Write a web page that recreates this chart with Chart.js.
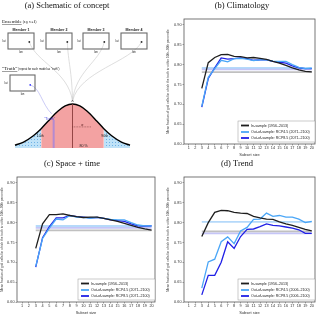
<!DOCTYPE html>
<html>
<head>
<meta charset="utf-8">
<script src="https://cdn.jsdelivr.net/npm/chart.js@4/dist/chart.umd.min.js"></script>
<style>
  body { margin: 0; background: #fff; width: 320px; height: 315px; overflow: hidden; position: relative; }
  canvas { position: absolute; }
</style>
</head>
<body>
<canvas id="pa" width="160" height="157" style="left:0;top:0"></canvas>
<canvas id="pb" width="160" height="157" style="left:160px;top:0"></canvas>
<canvas id="pc" width="160" height="157" style="left:0;top:158px"></canvas>
<canvas id="pd" width="160" height="157" style="left:160px;top:158px"></canvas>
<script>
// x axis
const subsetSizes = [3, 4, 5, 6, 7, 8, 9, 10, 11, 12, 13, 14, 15, 16, 17, 18, 19, 20];
const xTickValues = [1, 2, 3, 4, 5, 6, 7, 8, 9, 10, 11, 12, 13, 14, 15, 16, 17, 18, 19, 20];
const yTickValues = [0.60, 0.65, 0.70, 0.75, 0.80, 0.85, 0.90];

// (b) Climatology
const climInSample = [0.740, 0.805, 0.818, 0.825, 0.826, 0.821, 0.820, 0.817, 0.818, 0.816, 0.813, 0.808, 0.804, 0.798, 0.792, 0.787, 0.783, 0.782];
const climRcp45    = [0.695, 0.768, 0.790, 0.811, 0.807, 0.815, 0.816, 0.814, 0.810, 0.812, 0.812, 0.809, 0.808, 0.808, 0.800, 0.793, 0.790, 0.791];
const climRcp85    = [0.693, 0.765, 0.792, 0.817, 0.814, 0.815, 0.817, 0.815, 0.811, 0.812, 0.812, 0.808, 0.806, 0.804, 0.797, 0.792, 0.790, 0.790];
const climRef      = [0.781, 0.792, 0.788];

// (c) Space + time
const stInSample = [0.735, 0.797, 0.820, 0.820, 0.822, 0.818, 0.815, 0.813, 0.814, 0.814, 0.811, 0.807, 0.803, 0.798, 0.793, 0.788, 0.784, 0.781];
const stRcp45    = [0.690, 0.760, 0.786, 0.809, 0.807, 0.818, 0.814, 0.813, 0.811, 0.813, 0.811, 0.808, 0.807, 0.807, 0.800, 0.794, 0.792, 0.792];
const stRcp85    = [0.688, 0.762, 0.790, 0.812, 0.812, 0.818, 0.815, 0.814, 0.812, 0.813, 0.811, 0.807, 0.805, 0.803, 0.797, 0.792, 0.791, 0.792];
const stRef      = [0.7805, 0.7915, 0.787];

// (d) Trend
const trInSample = [0.765, 0.800, 0.826, 0.831, 0.830, 0.826, 0.824, 0.823, 0.816, 0.812, 0.809, 0.808, 0.802, 0.797, 0.793, 0.788, 0.783, 0.779];
const trRcp45    = [0.635, 0.701, 0.708, 0.752, 0.764, 0.747, 0.779, 0.788, 0.808, 0.809, 0.824, 0.816, 0.818, 0.814, 0.814, 0.809, 0.800, 0.803];
const trRcp85    = [0.618, 0.667, 0.667, 0.700, 0.752, 0.735, 0.765, 0.783, 0.784, 0.790, 0.797, 0.793, 0.792, 0.789, 0.786, 0.782, 0.773, 0.773];
const trRef      = [0.778, 0.802, 0.773];

// (a) schematic: bell curve (x in sd units, height relative to peak)
const bellX = [-2.35, -2.0, -1.6, -1.28, -1.0, -0.6, -0.3, 0, 0.3, 0.6, 1.0, 1.28, 1.6, 2.0, 2.35];
const bellY = [0.063, 0.135, 0.278, 0.44, 0.607, 0.835, 0.956, 1, 0.956, 0.835, 0.607, 0.44, 0.278, 0.135, 0.063];
const bellMean = 0;
const truthValue = -0.77;
const truthHeight = 0.64;
const memberNames = ['Member 1', 'Member 2', 'Member 3', 'Member 4'];
const memberLon = [0.82, 0.82, 0.82, 0.79];
const memberLat = [0.44, 0.44, 0.44, 0.44];
const truthLon = 0.81, truthLat = 0.38;

const SANS = "'Liberation Sans', Arial, sans-serif";
const SERIF = "'Liberation Serif', 'Times New Roman', serif";
Chart.defaults.font.family = SANS;
Chart.defaults.color = '#333';
Chart.defaults.animation = false;
Chart.defaults.responsive = false;
Chart.defaults.events = [];
Chart.defaults.plugins.legend.display = false;
Chart.defaults.plugins.tooltip.enabled = false;

const BLACK = '#1e1e1e', LIGHT = '#4aa6f7', DARK = '#2020e6';
const REF_COLORS = ['rgba(150,150,150,0.6)', 'rgba(120,185,245,0.55)', 'rgba(140,140,240,0.5)'];

const panelDecor = {
    id: 'panelDecor',
    afterDatasetsDraw(chart, args, opts) {
        const { ctx, chartArea: a } = chart;
        ctx.save();
        ctx.strokeStyle = '#555';
        ctx.lineWidth = 0.8;
        ctx.strokeRect(a.left, a.top, a.right - a.left, a.bottom - a.top);

        ctx.fillStyle = '#111';
        ctx.font = '8.5px ' + SERIF;
        ctx.textAlign = 'center';
        ctx.textBaseline = 'middle';
        ctx.fillText(opts.title, opts.titleX, opts.titleY);

        // legend box in lower right
        const items = chart.data.datasets.filter(d => d.label);
        const bw = 77, bx = a.right - bw, by = a.bottom - 23, bh = 21;
        ctx.fillStyle = '#fff';
        ctx.fillRect(bx, by, bw, bh);
        ctx.strokeStyle = '#999';
        ctx.lineWidth = 0.5;
        ctx.strokeRect(bx, by, bw, bh);
        const rowsY = [by + 4.5, by + 11, by + 17];
        ctx.font = '3.6px ' + SANS;
        ctx.textAlign = 'left';
        items.forEach((d, i) => {
            ctx.strokeStyle = d.borderColor;
            ctx.lineWidth = 1.8;
            ctx.beginPath();
            ctx.moveTo(bx + 3, rowsY[i]);
            ctx.lineTo(bx + 11, rowsY[i]);
            ctx.stroke();
            ctx.fillStyle = '#222';
            ctx.fillText(d.label, bx + 13, rowsY[i]);
        });
        ctx.restore();
    }
};

function makePanel(id, title, titleX, leftPad, yWidth, inS, r45, r85, refs, period) {
    const series = (label, vals, color) => ({
        label, data: subsetSizes.map((x, i) => ({ x, y: vals[i] })),
        borderColor: color, borderWidth: 1.3, pointRadius: 0, tension: 0
    });
    const refLine = (val, color) => ({
        data: [{ x: subsetSizes[0], y: val }, { x: subsetSizes[subsetSizes.length - 1], y: val }],
        borderColor: color, borderWidth: 1.8, pointRadius: 0
    });
    return new Chart(document.getElementById(id), {
        type: 'line',
        data: {
            datasets: [
                series('In-sample (1956\u20132013)', inS, BLACK),
                series('Out-of-sample: RCP4.5 (' + period + ')', r45, LIGHT),
                series('Out-of-sample: RCP8.5 (' + period + ')', r85, DARK),
                refLine(refs[0], REF_COLORS[0]),
                refLine(refs[1], REF_COLORS[1]),
                refLine(refs[2], REF_COLORS[2])
            ]
        },
        options: {
            layout: { padding: { left: leftPad, right: 5, top: 19, bottom: 0 } },
            scales: {
                x: {
                    type: 'linear', min: 0.25, max: 20.5,
                    afterBuildTicks: s => { s.ticks = xTickValues.map(v => ({ value: v })); },
                    afterFit: s => { s.height = 13; },
                    grid: { drawOnChartArea: false, tickLength: 1.5, color: '#555', lineWidth: 0.5 },
                    border: { display: false },
                    ticks: { font: { size: 3.8 }, padding: 0.5, maxRotation: 0, autoSkip: false, color: '#333' },
                    title: { display: true, text: 'Subset size', font: { size: 4 }, padding: 0, color: '#333' }
                },
                y: {
                    min: 0.6, max: 0.915,
                    afterBuildTicks: s => { s.ticks = yTickValues.map(v => ({ value: v })); },
                    afterFit: s => { s.width = yWidth; },
                    grid: { drawOnChartArea: false, tickLength: 1.5, color: '#555', lineWidth: 0.5 },
                    border: { display: false },
                    ticks: { font: { size: 3.8 }, padding: 1, callback: v => v.toFixed(2), color: '#333' },
                    title: {
                        display: true, padding: 0, color: '#333', font: { size: 3.2 },
                        text: 'Mean fraction of grid cells for which the truth is within 10th\u201390th percentile'
                    }
                }
            },
            plugins: { panelDecor: { title, titleX, titleY: 6 } }
        },
        plugins: [panelDecor]
    });
}

makePanel('pb', '(b) Climatology', 82, 6, 18, climInSample, climRcp45, climRcp85, climRef, '2071\u20132100');
makePanel('pc', '(c) Space + time', 72, 0, 17, stInSample, stRcp45, stRcp85, stRef, '2071\u20132100');
makePanel('pd', '(d) Trend', 77, 6, 18, trInSample, trRcp45, trRcp85, trRef, '2006\u20132100');

// ---- panel (a): small maps ----
const boxDecor = {
    id: 'boxDecor',
    beforeDatasetsDraw(chart, args, opts) {
        const { ctx, chartArea: a } = chart;
        ctx.save();
        ctx.strokeStyle = '#6a6a6a';
        ctx.lineWidth = 1.1;
        ctx.strokeRect(a.left, a.top, a.right - a.left, a.bottom - a.top);
        ctx.fillStyle = '#222';
        ctx.textAlign = 'center';
        ctx.textBaseline = 'middle';
        if (opts.name) {
            ctx.font = 'bold 3.6px ' + SANS;
            ctx.fillText(opts.name, (a.left + a.right) / 2, a.top - 2.6);
        }
        ctx.font = '2.8px ' + SANS;
        ctx.fillText('lat', a.left - 4, (a.top + a.bottom) / 2);
        ctx.fillText('lon', (a.left + a.right) / 2, a.bottom + 3);
        ctx.restore();
    }
};

function makeMap(left, top, w, h, name, lon, lat, color) {
    const cv = document.createElement('canvas');
    cv.width = w + 9; cv.height = h + 11;
    cv.style.left = (left - 7) + 'px';
    cv.style.top = (top - 6) + 'px';
    document.body.appendChild(cv);
    const chart = new Chart(cv, {
        type: 'scatter',
        data: { datasets: [{ data: [{ x: lon, y: lat }], pointStyle: 'rect', pointRadius: 1.1, backgroundColor: color, borderColor: color, borderWidth: 0 }] },
        options: {
            layout: { padding: { left: 7, top: 6, right: 2, bottom: 5 } },
            scales: { x: { display: false, min: 0, max: 1 }, y: { display: false, min: 0, max: 1 } },
            plugins: { boxDecor: { name } }
        },
        plugins: [boxDecor]
    });
    const pt = chart.getDatasetMeta(0).data[0];
    return { x: left - 7 + pt.x, y: top - 6 + pt.y };
}

const memberLeft = [8, 46, 83, 121];
const memberPts = memberNames.map((n, i) => makeMap(memberLeft[i], 33, 28, 16, n, memberLon[i], memberLat[i], '#111'));
const truthPt = makeMap(10, 75, 27, 16, null, truthLon, truthLat, '#3535ff');

// dotted pattern for the tails
function tailPattern(ctx) {
    const p = document.createElement('canvas');
    p.width = 3; p.height = 3;
    const g = p.getContext('2d');
    g.fillStyle = '#bfe2f8';
    g.fillRect(0, 0, 3, 3);
    g.fillStyle = '#6fb2e6';
    g.fillRect(1, 1, 1, 1);
    return ctx.createPattern(p, 'repeat');
}

const schematicDecor = {
    id: 'schematicDecor',
    beforeDatasetsDraw(chart) {
        const { ctx, scales: { x, y } } = chart;
        const ax = x.getPixelForValue(bellMean), ay = y.getPixelForValue(1) - 3;
        ctx.save();
        ctx.lineWidth = 0.6;
        ctx.strokeStyle = '#c8c8c8';
        memberPts.forEach(p => {
            ctx.beginPath();
            ctx.moveTo(p.x, p.y);
            ctx.bezierCurveTo(p.x + (ax - p.x) * 0.15, p.y + 20, ax + (p.x - ax) * 0.1, ay - 30, ax, ay);
            ctx.stroke();
        });
        const tx = x.getPixelForValue(truthValue), ty = y.getPixelForValue(truthHeight) - 6;
        ctx.strokeStyle = '#a8a8f0';
        ctx.beginPath();
        ctx.moveTo(truthPt.x, truthPt.y);
        ctx.bezierCurveTo(truthPt.x + 10, truthPt.y + 3, tx - 12, ty - 10, tx - 2, ty);
        ctx.stroke();
        ctx.restore();
    },
    afterDatasetsDraw(chart) {
        const { ctx, scales: { x, y } } = chart;
        const base = y.getPixelForValue(0);
        ctx.save();
        ctx.fillStyle = '#111';
        ctx.textAlign = 'center';
        ctx.textBaseline = 'middle';
        ctx.font = '8.5px ' + SERIF;
        ctx.fillText('(a) Schematic of concept', 67, 6);

        // headings
        ctx.textAlign = 'left';
        ctx.font = '5px ' + SERIF;
        ctx.fillText('Ensemble', 2, 22);
        let w = ctx.measureText('Ensemble').width;
        ctx.fillRect(2, 24.5, w, 0.4);
        ctx.font = '2.8px ' + SANS;
        ctx.fillText('(e.g. n = 4)', 3 + w, 22.3);
        ctx.font = '5px ' + SERIF;
        ctx.fillText('\u201cTruth\u201d', 2, 69);
        w = ctx.measureText('\u201cTruth\u201d').width;
        ctx.fillRect(2, 71.5, w, 0.4);
        ctx.font = '2.8px ' + SANS;
        ctx.fillText('(repeat for each model as \u201ctruth\u201d)', 3 + w, 69.3);

        // apex mark
        const ax = x.getPixelForValue(bellMean), ay = y.getPixelForValue(1);
        ctx.strokeStyle = '#444';
        ctx.lineWidth = 0.5;
        ctx.beginPath();
        ctx.moveTo(ax - 1, ay - 2); ctx.lineTo(ax, ay - 4); ctx.lineTo(ax + 1, ay - 2);
        ctx.stroke();

        // sigma marker
        const sy = y.getPixelForValue(0.48);
        ctx.setLineDash([0.8, 0.8]);
        ctx.strokeStyle = '#5a2020';
        ctx.beginPath();
        ctx.moveTo(ax, sy); ctx.lineTo(x.getPixelForValue(0.78), sy);
        ctx.stroke();
        ctx.setLineDash([]);
        ctx.textAlign = 'center';
        ctx.font = '3.6px ' + SANS;
        ctx.fillStyle = '#5a2020';
        ctx.fillText('\u03c3', x.getPixelForValue(0.4), sy - 2);

        ctx.fillStyle = '#222';
        ctx.fillText('10th', x.getPixelForValue(-1.28) - 1, base - 12);
        ctx.fillText('90th', x.getPixelForValue(1.28) + 1, base - 12);
        ctx.fillText('80 %', x.getPixelForValue(0.45), base - 2);
        ctx.fillStyle = '#3a3ae0';
        ctx.fillText('\u201cTruth\u201d', x.getPixelForValue(truthValue) - 4, y.getPixelForValue(truthHeight) - 0.5);
        ctx.restore();
    }
};

const bellPts = bellX.map((v, i) => ({ x: v, y: bellY[i] }));
const ctxA = document.getElementById('pa').getContext('2d');
const tailFill = tailPattern(ctxA);
new Chart(ctxA, {
    type: 'line',
    data: {
        datasets: [
            { data: [{ x: truthValue, y: 0 }, { x: truthValue, y: truthHeight }], borderColor: '#b48ad0', borderWidth: 2, pointRadius: 0 },
            { data: [{ x: bellMean, y: 0 }, { x: bellMean, y: 1 }], borderColor: '#8a3b3b', borderWidth: 0.9, pointRadius: 0 },
            { data: bellPts, borderColor: '#000', borderWidth: 1.4, pointRadius: 0, cubicInterpolationMode: 'monotone', clip: false },
            { data: bellPts.slice(0, 4), fill: 'origin', backgroundColor: tailFill, borderWidth: 0, pointRadius: 0, cubicInterpolationMode: 'monotone' },
            { data: bellPts.slice(3, 12), fill: 'origin', backgroundColor: '#f3a2a2', borderWidth: 0, pointRadius: 0, cubicInterpolationMode: 'monotone' },
            { data: bellPts.slice(11), fill: 'origin', backgroundColor: tailFill, borderWidth: 0, pointRadius: 0, cubicInterpolationMode: 'monotone' }
        ]
    },
    options: {
        layout: { padding: { left: 15, right: 30, top: 104, bottom: 9 } },
        scales: {
            x: { type: 'linear', display: false, min: -2.35, max: 2.35 },
            y: { display: false, min: 0, max: 1 }
        }
    },
    plugins: [schematicDecor]
});
</script>
</body>
</html>
